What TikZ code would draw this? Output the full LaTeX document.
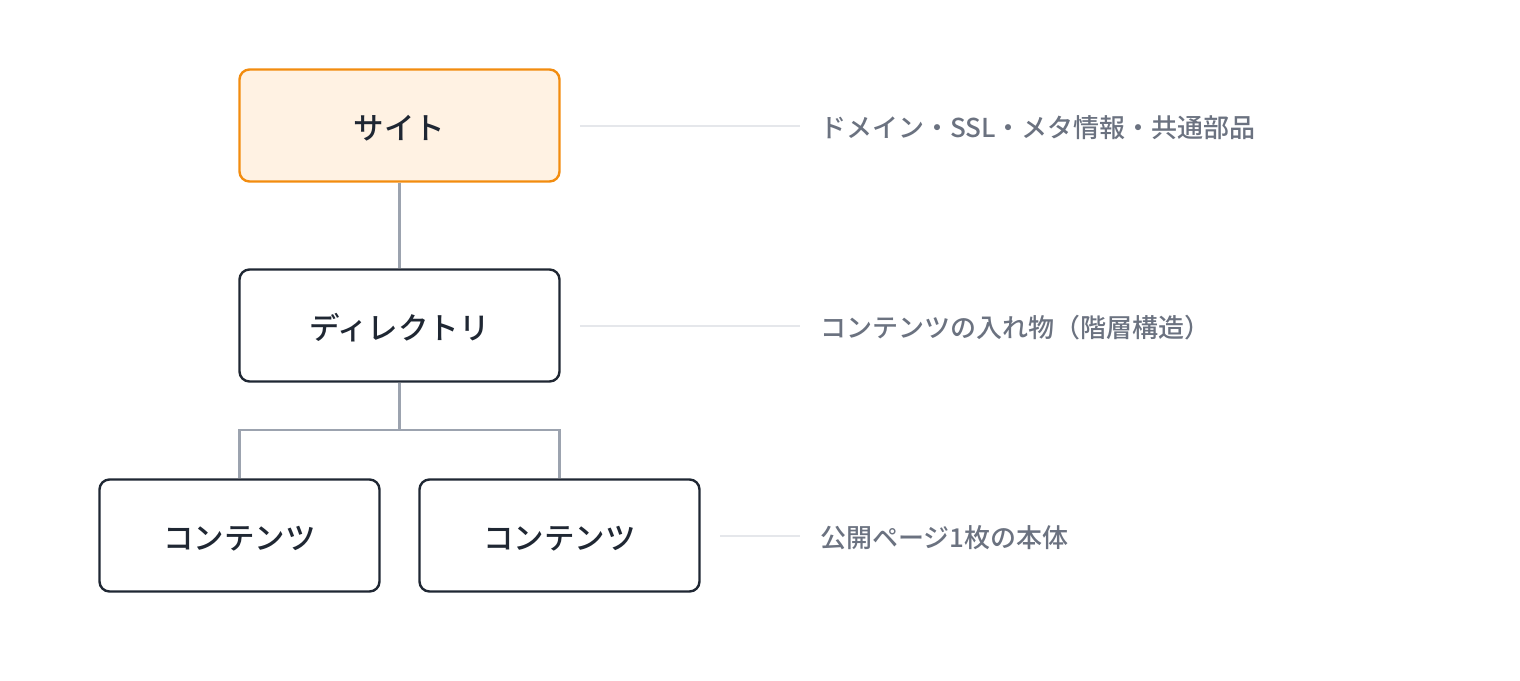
\documentclass[tikz,border=0pt]{standalone}
\usepackage{fontspec}
\setmainfont{Noto Sans CJK JP}
\newfontfamily\medjp{Noto Sans CJK JP Medium}
\definecolor{orangeB}{HTML}{F28C0F}
\definecolor{orangeF}{HTML}{FFF2E3}
\definecolor{darkB}{HTML}{1F2733}
\definecolor{connG}{HTML}{9CA3AF}
\definecolor{leadG}{HTML}{E5E7EB}
\definecolor{labelG}{HTML}{6B7280}
\tikzset{
  box/.style={draw=darkB, line width=2.4pt, rounded corners=10pt, fill=white,
    minimum width=320pt, minimum height=112pt, inner sep=0pt,
    font=\medjp\fontsize{30.5pt}{34pt}\selectfont, text=darkB},
  sitebox/.style={box, draw=orangeB, fill=orangeF},
  smallbox/.style={box, minimum width=280pt},
  conn/.style={draw=connG, line width=2.4pt},
  lead/.style={draw=leadG, line width=1.5pt},
  lbl/.style={anchor=west, inner sep=0pt, text=labelG, font=\medjp\fontsize{26pt}{30pt}\selectfont}
}
\newcommand{\bx}[1]{\raisebox{-14pt}[0pt][0pt]{#1}}
\begin{document}
\begin{tikzpicture}[x=1pt,y=-1pt]
\useasboundingbox (0,0) rectangle (1520,680);
\node[sitebox] (site) at (399.5,125.5) {\bx{サイト}};
\node[box] (dir) at (399.5,325.5) {\bx{ディレクトリ}};
\node[smallbox] (c1) at (239.5,535.5) {\bx{コンテンツ}};
\node[smallbox] (c2) at (559.5,535.5) {\bx{コンテンツ}};
\coordinate (j) at (399.5,430);
\draw[conn] (site.south) -- (dir.north);
\draw[conn] (dir.south) -- (j);
\draw[conn] (c1.north) |- (j) -| (c2.north);
\node[lbl] (l1) at (820,127.5) {ドメイン・SSL・メタ情報・共通部品};
\node[lbl] (l2) at (820,327.5) {コンテンツの入れ物（階層構造）};
\node[lbl] (l3) at (820,537.5) {公開ページ1枚の本体};
\coordinate (s1) at (580,126);
\coordinate (s2) at (580,326);
\coordinate (s3) at (720,536);
\draw[lead] (s1) -- (800,126);
\draw[lead] (s2) -- (800,326);
\draw[lead] (s3) -- (800,536);
\end{tikzpicture}
\end{document}
